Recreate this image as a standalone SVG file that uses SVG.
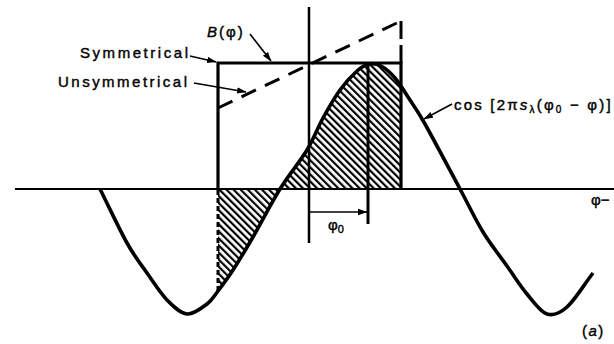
<svg xmlns="http://www.w3.org/2000/svg" width="614" height="344" viewBox="0 0 614 344">
<style>
.ln{fill:none;stroke:#000;stroke-linecap:butt}
.t{font-family:"Liberation Sans",Arial,sans-serif;font-size:15px;fill:#000;stroke:#000;stroke-width:0.4}
.ld{fill:none;stroke:#000;stroke-width:1.6}
</style>
<defs>
<pattern id="hatch" patternUnits="userSpaceOnUse" width="5" height="10" patternTransform="rotate(-45)">
<rect x="0" y="0" width="2.2" height="10" fill="#000"/>
</pattern>
<clipPath id="rectClip"><rect x="218" y="60" width="183" height="240"/></clipPath>
<marker id="ah" markerUnits="userSpaceOnUse" markerWidth="10" markerHeight="8" refX="9" refY="4" orient="auto">
<path d="M0,0.8 L9.5,4 L0,7.2 z" fill="#000"/>
</marker>
</defs>

<g id="hatching" clip-path="url(#rectClip)">
<path fill="url(#hatch)" d="M218,189 L218,291 C222.33,285.33 227.17,279 233,270 C238.83,261 245.17,250.5 253,237 C260.83,223.5 271,203.5 280,189 C289,174.5 299.83,161.830 307,150 C314.17,138.17 317.5,128 323,118 C328.5,108 334.33,97.83 340,90 C345.67,82.17 352.17,75.33 357,71 C361.83,66.67 365,64.83 369,64 C373,63.17 376.67,63.67 381,66 C385.33,68.33 390.17,72.33 395,78 C399.83,83.67 405,92.33 410,100 C415,107.67 416.67,109.17 425,124 L425,189 Z"/>
</g>

<g id="axes">
<path class="ln" stroke-width="2" d="M15,189 H614"/>
<path class="ln" stroke-width="2.5" d="M309,7 V243"/>
</g>

<g id="window-symmetrical">
<path class="ln" stroke-width="3.2" d="M218,189 V63 H401 V189"/>
</g>

<g id="window-unsymmetrical">
<path class="ln" stroke-width="3" stroke-dasharray="16 10" d="M218,108 L401,21"/>
<path class="ln" stroke-width="3" stroke-dasharray="18 6" d="M401,21 V63"/>
<path class="ln" stroke-width="3" stroke-dasharray="5 3" d="M218,190 V291"/>
</g>

<g id="cosine">
<path class="ln" stroke-width="3.6" stroke-linejoin="round" d="M100,189 C109,207 119.17,229 127,243 C134.83,257 140.33,263.5 147,273 C153.67,282.5 160.33,293.17 167,300 C173.67,306.83 180.33,313.33 187,314 C193.67,314.67 201.83,307.83 207,304 C212.17,300.17 213.67,296.67 218,291 C222.33,285.33 227.17,279 233,270 C238.83,261 245.17,250.5 253,237 C260.83,223.5 271,203.5 280,189 C289,174.5 299.83,161.83 307,150 C314.17,138.17 317.5,128 323,118 C328.5,108 334.33,97.83 340,90 C345.67,82.17 352.17,75.33 357,71 C361.83,66.67 365,64.83 369,64 C373,63.17 376.67,63.67 381,66 C385.33,68.33 390.17,72.33 395,78 C399.83,83.67 405,92.33 410,100 C415,107.67 416.67,109.17 425,124 C433.33,138.83 450.33,171 460,189 C469.67,207 475.17,219.17 483,232 C490.83,244.83 499.67,255.67 507,266 C514.33,276.33 520.33,286 527,294 C533.67,302 540.33,311.83 547,314 C553.67,316.17 559.33,313.83 567,307 C574.67,300.17 584.33,284.33 593,273"/>
</g>

<g id="phi0-marker">
<path class="ln" stroke-width="3" d="M368,63 V224"/>
<path class="ld" marker-end="url(#ah)" d="M310,212 H367"/>
<text class="t" x="328" y="230">φ<tspan font-size="11" dy="3">0</tspan></text>
</g>

<g id="connectors">
<path class="ld" marker-end="url(#ah)" d="M250,34 L271,61"/>
<path class="ld" marker-end="url(#ah)" d="M190,56 L216,62"/>
<path class="ld" marker-end="url(#ah)" d="M194,83 L246,92"/>
<path class="ld" marker-end="url(#ah)" d="M452,104 L424,119"/>
</g>

<g id="labels">
<text class="t" x="207" y="37" letter-spacing="2"><tspan font-style="italic">B</tspan>(φ)</text>
<text class="t" x="80" y="58" textLength="108" lengthAdjust="spacing">Symmetrical</text>
<text class="t" x="58" y="87" textLength="129" lengthAdjust="spacing">Unsymmetrical</text>
<text class="t" x="454" y="110" letter-spacing="2.2">cos [2π<tspan font-style="italic">s</tspan><tspan font-size="10" dy="3">λ</tspan><tspan dy="-3">(φ</tspan><tspan font-size="10" dy="3">0</tspan><tspan dy="-3"> − φ)]</tspan></text>
<text class="t" x="591" y="205">φ−</text>
<text class="t" x="582" y="336" letter-spacing="1.5">(<tspan font-style="italic">a</tspan>)</text>
</g>
</svg>
